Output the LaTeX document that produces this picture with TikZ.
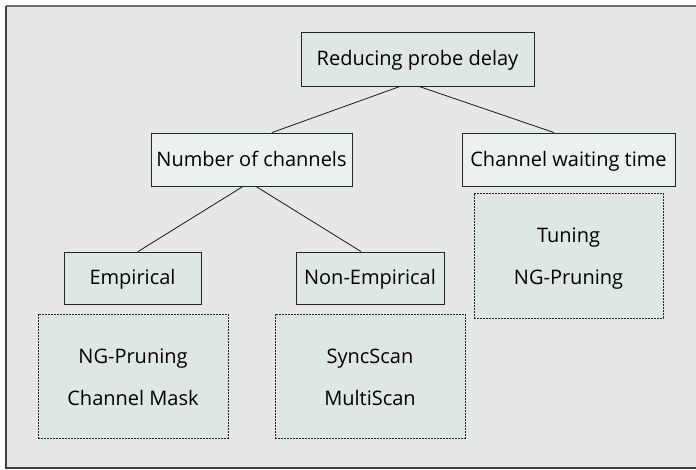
\documentclass[tikz,border=0pt]{standalone}
\usepackage{fontspec}
\setmainfont{Open Sans}
\usetikzlibrary{positioning}
\definecolor{panel}{HTML}{E6E7E9}
\definecolor{boxdark}{HTML}{DDE7E5}
\definecolor{boxlight}{HTML}{EBF1F1}
\definecolor{framegray}{HTML}{6E6E6E}
\tikzset{
  solidbox/.style={draw=black!85, line width=0.9pt, inner sep=0pt, text height=14pt, text depth=0pt, font=\fontsize{20}{22}\selectfont},
  methodbox/.style={draw=black!85, line width=0.9pt, dash pattern=on 1.6pt off 1.4pt, fill=boxdark, inner sep=0pt},
  label/.style={font=\fontsize{20}{22}\selectfont, text height=14pt, text depth=0pt, inner sep=0pt},
  link/.style={draw=black!90, line width=0.8pt}
}
\begin{document}
\begin{tikzpicture}[x=1pt, y=-1pt]
  \useasboundingbox (0,0) rectangle (696,470);
  % panel and frame
  \fill[panel] (6,6) rectangle (696,468);
  \draw[framegray, line width=1.3pt] (696,6) -- (6,6);
  \draw[black!75, line width=1.2pt] (6,6) -- (6,468) -- (696,468);

  % category boxes
  \node[solidbox, fill=boxdark, minimum width=233pt, minimum height=54pt] (root) at (417.5,59) {Reducing probe delay};
  \node[solidbox, fill=boxlight, minimum width=201pt, minimum height=53pt] (num) at (251.5,159.5) {Number of channels};
  \node[solidbox, fill=boxlight, minimum width=213pt, minimum height=53pt] (wait) at (568.5,159.5) {Channel waiting time};
  \node[solidbox, fill=boxdark, minimum width=137pt, minimum height=52pt] (emp) at (132.5,278) {Empirical};
  \node[solidbox, fill=boxdark, minimum width=148pt, minimum height=52pt] (nonemp) at (370,278) {Non-Empirical};

  % method groups
  \node[methodbox, minimum width=190pt, minimum height=124pt] (empm) at (133,376) {};
  \node[methodbox, minimum width=190pt, minimum height=124pt] (nonempm) at (370,376) {};
  \node[methodbox, minimum width=189pt, minimum height=125pt] (waitm) at (568.5,255.5) {};

  \node[label] (m1) at (133,356) {NG-Pruning};
  \node[label] (m2) at (133,398) {Channel Mask};
  \node[label] (m3) at (370,356) {SyncScan};
  \node[label] (m4) at (370,398) {MultiScan};
  \node[label] (m5) at (568.5,236) {Tuning};
  \node[label] (m6) at (568.5,278) {NG-Pruning};

  % tree connectors
  \draw[link] ([xshift=-17.5pt]root.south) -- ([xshift=20.5pt]num.north);
  \draw[link] ([xshift=1.5pt]root.south) -- ([xshift=-14.5pt]wait.north);
  \draw[link] ([xshift=-8.5pt]num.south) -- ([xshift=5.5pt]emp.north);
  \draw[link] ([xshift=4.5pt]num.south) -- ([xshift=-9pt]nonemp.north);
\end{tikzpicture}
\end{document}
